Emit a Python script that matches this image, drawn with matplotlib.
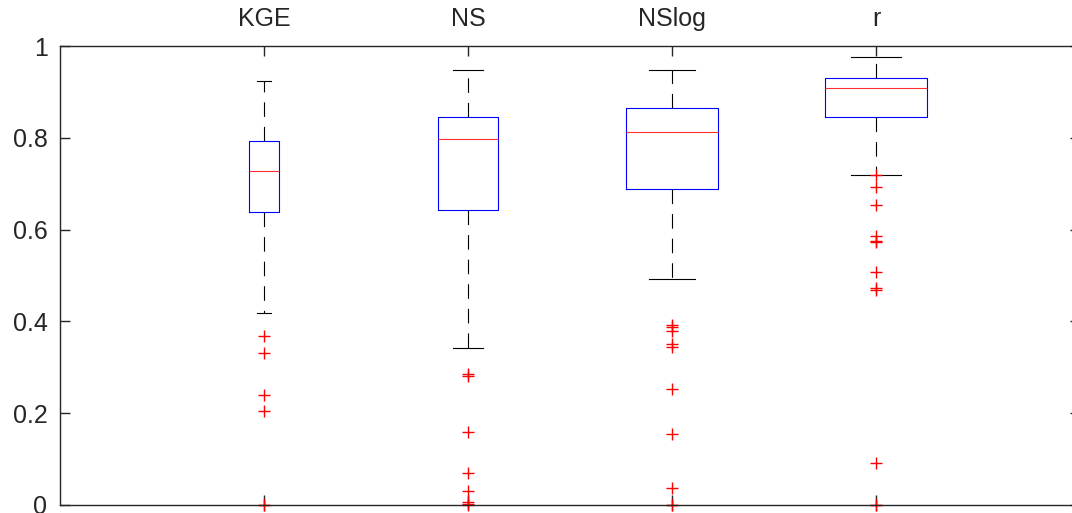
import matplotlib
matplotlib.use("Agg")
import matplotlib.pyplot as plt

plt.rcParams['font.family'] = ['Liberation Sans', 'DejaVu Sans']
plt.rcParams['lines.scale_dashes'] = False

# box statistics
labels = ["KGE", "NS", "NSlog", "r"]
whislo = [0.418, 0.343, 0.492, 0.720]
q1 = [0.638, 0.643, 0.688, 0.846]
med = [0.728, 0.797, 0.813, 0.908]
q3 = [0.794, 0.846, 0.866, 0.930]
whishi = [0.924, 0.948, 0.948, 0.975]
fliers = [
    [0.368, 0.331, 0.240, 0.205, 0.0, 0.0],
    [0.285, 0.280, 0.160, 0.070, 0.031, 0.007, 0.0015, 0.0],
    [0.392, 0.387, 0.379, 0.351, 0.345, 0.253, 0.155, 0.038, 0.0, 0.0],
    [0.720, 0.692, 0.653, 0.586, 0.575, 0.573, 0.508, 0.473, 0.469, 0.092, 0.0, 0.0],
]
box_widths = [0.147, 0.298, 0.448, 0.499]

stats = []
for i in range(len(labels)):
    stats.append(dict(label=labels[i], whislo=whislo[i], q1=q1[i], med=med[i],
                      q3=q3[i], whishi=whishi[i], fliers=fliers[i]))

fig = plt.figure(figsize=(10.72, 5.13), dpi=100)
ax = fig.add_axes([60 / 1072, 8 / 513, 1020 / 1072, 459 / 513])

parts = ax.bxp(stats, positions=[1, 2, 3, 4], widths=box_widths, patch_artist=False,
               boxprops=dict(color='#0000ff', linewidth=0.8),
               medianprops=dict(color='#ff3030', linewidth=0.8),
               whiskerprops=dict(color='black', linewidth=0.8, linestyle=(0, (10.5, 7.2))),
               capprops=dict(color='black', linewidth=0.8),
               flierprops=dict(marker='+', markeredgecolor='#ff0000', markersize=9,
                               markeredgewidth=1.0, linestyle='none'),
               capwidths=[w / 2 for w in box_widths])
for fl in parts['fliers']:
    fl.set_clip_on(False)

ax.set_xlim(0, 5)
ax.set_ylim(0, 1)
ax.set_yticks([0, 0.2, 0.4, 0.6, 0.8, 1])
ax.set_yticklabels(['0', '0.2', '0.4', '0.6', '0.8', '1'])
ax.set_xticks([1, 2, 3, 4])
ax.set_xticklabels(labels)

ax.tick_params(axis='x', top=True, bottom=True, labeltop=True, labelbottom=False,
               direction='in', length=7.5, width=1, pad=11, labelsize=18,
               colors='#262626')
ax.tick_params(axis='y', left=True, right=True, direction='in', length=7.5,
               width=1, pad=9, labelsize=18, colors='#262626')
for s in ax.spines.values():
    s.set_color('#262626')
    s.set_linewidth(1)

fig.savefig("out.png", dpi=100)
